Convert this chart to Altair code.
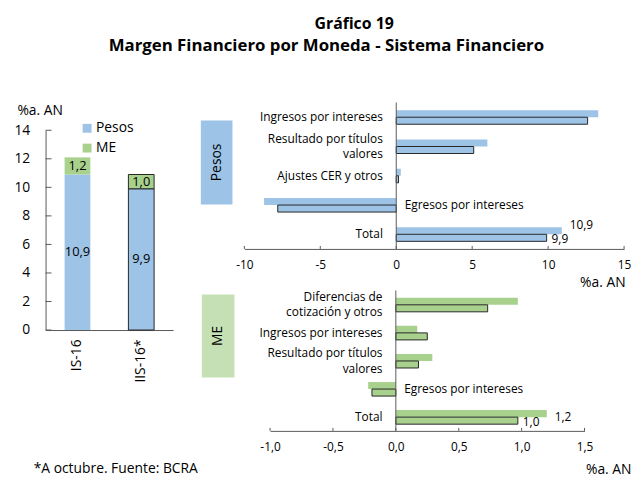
import altair as alt
import pandas as pd

FONT = "Open Sans"
AZUL = "#9DC3E6"
VERDE = "#A9D18E"
VERDE_CAJA = "#C5E0B4"
GRIS = "#595959"
BORDE = "#262626"

# ---- Datos ----
periodos = ["IS-16", "IIS-16*"]
monedas = ["Pesos", "ME"]
margen_pesos = [10.9, 9.9]
margen_me = [1.2, 1.0]
ticks_izq = [0, 2, 4, 6, 8, 10, 12, 14]

series = ["IS-16", "IIS-16*"]

cat_pesos = ["Ingresos por intereses", "Resultado por títulos\nvalores",
             "Ajustes CER y otros", "Egresos por intereses", "Total"]
pesos_is16 = [13.3, 6.0, 0.3, -8.7, 10.9]
pesos_iis16 = [12.6, 5.1, 0.15, -7.8, 9.9]
ticks_pesos = [-10, -5, 0, 5, 10, 15]

cat_me = ["Diferencias de\ncotización y otros", "Ingresos por intereses",
          "Resultado por títulos\nvalores", "Egresos por intereses", "Total"]
me_is16 = [0.97, 0.17, 0.29, -0.22, 1.2]
me_iis16 = [0.73, 0.25, 0.18, -0.19, 0.97]
ticks_me = [-1.0, -0.5, 0.0, 0.5, 1.0, 1.5]

nota = "*A octubre. Fuente: BCRA"
titulo = "Gráfico 19"
subtitulo = "Margen Financiero por Moneda - Sistema Financiero"

# ---- Panel izquierdo ----
W_L, H_L = 129, 230
df_izq = pd.DataFrame({
    "periodo": periodos * 2,
    "moneda": [monedas[0]] * 2 + [monedas[1]] * 2,
    "valor": margen_pesos + margen_me,
    "orden": [0, 0, 1, 1],
})

base_l = alt.Chart(df_izq).transform_stack(
    stack="valor", groupby=["periodo"], as_=["v0", "v1"],
    sort=[alt.SortField("orden", order="ascending")]
).transform_calculate(
    mid="(datum.v0 + datum.v1) / 2",
    etiqueta="replace(format(datum.valor, '.1f'), '.', ',')",
)

eje_y_l = alt.Axis(title="%a. AN", values=ticks_izq, ticks=False,
                   tickSize=0, labelPadding=16, labelFontSize=14,
                   labelOverlap=False, labelFlush=False,
                   labelColor="black", domainColor=GRIS, grid=False,
                   titleAngle=0, titleX=-29, titleY=12,
                   titleAlign="left", titleBaseline="alphabetic",
                   titleFontWeight="normal", titleFontSize=14)
esc_y_l = alt.Scale(domain=[0, 14], range=[H_L, 28], padding=0, nice=False)

x_l = alt.X("periodo:N", sort=periodos,
            scale=alt.Scale(paddingInner=0, paddingOuter=0),
            axis=alt.Axis(title=None, labelAngle=270, labelAlign="right",
                          labelBaseline="middle", labelFontSize=14,
                          labelPadding=9, ticks=False, tickSize=0,
                          domainColor=GRIS, labelColor="black"))

bars_l = base_l.mark_bar(size=26, stroke=BORDE).encode(
    x=x_l, y=alt.Y("v0:Q", scale=esc_y_l, axis=eje_y_l), y2="v1:Q",
    color=alt.Color("moneda:N", scale=alt.Scale(domain=monedas, range=[AZUL, VERDE]),
                    legend=alt.Legend(title=None, orient="none", legendX=35, legendY=19,
                                      symbolType="square", symbolSize=81,
                                      symbolStrokeWidth=0, labelFontSize=14,
                                      rowPadding=6, labelOffset=2, padding=0)),
    strokeWidth=alt.condition(alt.datum.periodo == periodos[1], alt.value(1), alt.value(0)),
)
text_l = base_l.mark_text(fontSize=13, color="black").encode(
    x=alt.X("periodo:N", sort=periodos), y=alt.Y("mid:Q", scale=esc_y_l, axis=eje_y_l),
    text="etiqueta:N")
ticks_l = alt.Chart(pd.DataFrame({"t": ticks_izq})).mark_rule(
    strokeWidth=1, color=GRIS).encode(
    y=alt.Y("t:Q", scale=esc_y_l, axis=eje_y_l), x=alt.value(0), x2=alt.value(6))
nota_l = alt.Chart(pd.DataFrame({"n": [nota]})).mark_text(
    align="left", baseline="alphabetic", fontSize=14, color="black").encode(
    x=alt.value(-12), y=alt.value(375), text="n:N")

izq = alt.layer(bars_l, text_l, ticks_l, nota_l).properties(width=W_L, height=H_L)


# ---- Paneles derechos ----
def panel(cats, v1, v2, color, caja_color, caja_texto, ticks, rango, W, H,
          label_expr, caja, titulo_pos, lab_pad, etq_off):
    df = pd.DataFrame({
        "categoria": cats * 2,
        "serie": [series[0]] * len(cats) + [series[1]] * len(cats),
        "valor": v1 + v2,
    })
    base = alt.Chart(df).transform_calculate(
        etiqueta="replace(format(datum.valor, '.1f'), '.', ',')",
        multi="indexof(datum.categoria, '\\n') >= 0")
    x = alt.X("valor:Q",
              scale=alt.Scale(domain=[ticks[0], ticks[-1]], range=rango, padding=0, nice=False),
              axis=alt.Axis(values=ticks, title="%a. AN", titleX=titulo_pos[0],
                            titleY=titulo_pos[1], titleAlign="right",
                            titleBaseline="alphabetic", titleFontWeight="normal",
                            titleFontSize=14, labelExpr=label_expr, labelFontSize=12,
                            labelColor="black", labelPadding=lab_pad, ticks=False,
                            tickSize=0, grid=False, domainColor=GRIS,
                            labelFlush=False, labelOverlap=False))
    y = alt.Y("categoria:N", sort=cats,
              scale=alt.Scale(paddingInner=0.52, paddingOuter=0.26), axis=None)
    yo = alt.YOffset("serie:N", sort=series,
                     scale=alt.Scale(paddingInner=0, paddingOuter=0))

    uno = alt.Chart(pd.DataFrame({"k": [0]}))
    caja_r = uno.mark_rect(color=caja_color).encode(
        x=alt.value(caja[0]), x2=alt.value(caja[1]),
        y=alt.value(caja[2]), y2=alt.value(caja[3]))
    caja_t = uno.mark_text(angle=270, fontSize=14, color="black",
                           baseline="middle", align="center").encode(
        x=alt.value((caja[0] + caja[1]) / 2), y=alt.value((caja[2] + caja[3]) / 2),
        text=alt.value(caja_texto))

    bars = base.mark_bar(stroke=BORDE).encode(
        x=x, y=y, yOffset=yo, color=alt.value(color),
        strokeWidth=alt.condition(alt.datum.serie == series[1], alt.value(1), alt.value(0)))
    regla = uno.mark_rule(color=GRIS).encode(x=alt.datum(0))
    marcas = alt.Chart(pd.DataFrame({"t": ticks})).mark_rule(
        strokeWidth=1, color=GRIS).encode(x=alt.X("t:Q"), y=alt.value(H - 3), y2=alt.value(H))

    labs = []
    for positivo in (True, False):
        for multi in (False, True):
            cond = (alt.datum.serie == series[0]) & (alt.datum.multi == multi)
            cond = cond & ((alt.datum.valor >= 0) if positivo else (alt.datum.valor < 0))
            labs.append(base.transform_filter(cond).mark_text(
                align="right" if positivo else "left", baseline="middle",
                dx=-13.5 if positivo else 8.5, dy=-8 if multi else 0, fontSize=12,
                lineBreak="\n", lineHeight=16, color="black").encode(
                x=alt.datum(0), y=y, text="categoria:N"))

    etq = []
    for s, (ddx, ddy) in zip(series, etq_off):
        etq.append(base.transform_filter(
            (alt.datum.categoria == "Total") & (alt.datum.serie == s)
        ).mark_text(align="left", baseline="middle", dx=ddx, dy=ddy, fontSize=12,
                    color="black").encode(
            x="valor:Q", y=y, yOffset=yo, text="etiqueta:N"))

    return alt.layer(caja_r, caja_t, bars, regla, marcas, *labs, *etq
                     ).properties(width=W, height=H)


expr_p = "replace(format(datum.value, 'd'), '\u2212', '-')"
expr_m = "replace(replace(format(datum.value, '.1f'), '.', ','), '\u2212', '-')"

arriba = panel(cat_pesos, pesos_is16, pesos_iis16, AZUL, AZUL, "Pesos", ticks_pesos,
               [0, 384], 384, 148, expr_p, [-44, -12, 18, 103], [385, 38], 11,
               [(8, -6), (5, 1.5)])
abajo = panel(cat_me, me_is16, me_iis16, VERDE, VERDE_CAJA, "ME", ticks_me,
              [26, 344], 384, 142, expr_m, [-43, -10, 4, 88], [391, 43], 11,
              [(8, 3), (5, 1.5)])

der = alt.vconcat(arriba, abajo, spacing=42, bounds="flush")

interior = alt.hconcat(izq, der, spacing=72, bounds="flush").properties(
    title=alt.Title(text=subtitulo, fontSize=17, fontWeight="bold", color="black",
                    anchor="middle", offset=48, dx=4))

chart = alt.vconcat(interior, bounds="flush").properties(
    title=alt.Title(text=titulo, fontSize=16, fontWeight="bold", color="black",
                    anchor="middle", offset=5, dx=32),
    padding={"left": 5, "top": 5, "right": 0, "bottom": 0},
).configure(font=FONT).configure_view(strokeWidth=0).configure_axis(
    labelOverlap=False, labelFlush=False)

chart.save("out.html", embed_options={"renderer": "svg", "actions": False})
